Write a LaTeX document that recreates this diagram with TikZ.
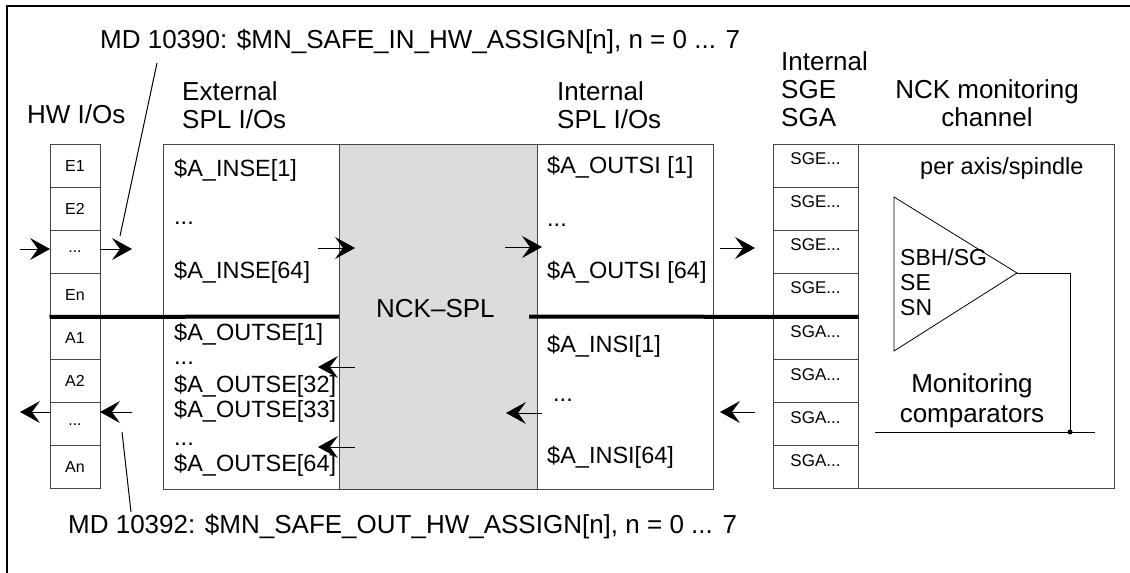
\documentclass[tikz,border=0pt]{standalone}
\usepackage{fontspec}
\setmainfont{Liberation Sans}
\usetikzlibrary{arrows.meta}
\definecolor{splgray}{RGB}{220,220,220}
\definecolor{edgegray}{RGB}{70,70,70}

\tikzset{
  heading/.style={font=\fontsize{26}{28}\selectfont, inner sep=0pt, align=left, anchor=base west},
  entry/.style={font=\fontsize{23.5}{26}\selectfont, inner sep=0pt, anchor=base west},
  hwcell/.style={draw=edgegray, line width=1pt, minimum width=50pt, minimum height=43.125pt,
    inner sep=0pt, font=\fontsize{16}{16}\selectfont},
  sgcell/.style={draw=edgegray, line width=1pt, minimum width=85pt, minimum height=43.125pt,
    inner sep=0pt, text height=10pt, text depth=12pt, font=\fontsize{17}{17}\selectfont},
  box/.style={draw=edgegray, line width=1pt},
  sig/.style={line width=1pt, -{Stealth[length=20pt, width=22pt, inset=8pt]}},
  bus/.style={line width=4pt},
  leader/.style={line width=1pt},
}

\begin{document}
\begin{tikzpicture}[x=1pt, y=-1pt]
  \useasboundingbox (0,0) rectangle (1130,573);
  % frame
  \draw[line width=1.5pt] (7,573) -- (7,6) -- (1130,6);

  % SPL boxes
  \filldraw[box, fill=splgray] (339,144) rectangle (537,489);
  \draw[box] (163,144) rectangle (339,489);
  \draw[box] (537,144) rectangle (713,489);
  \draw[box] (773,144) rectangle (1114,488);

  % HW I/O cells
  \node[hwcell] (hwe1) at (75,165.6) {E1};
  \node[hwcell] (hwe2) at (75,208.7) {E2};
  \node[hwcell] (hwedots) at (75,251.8) {...};
  \node[hwcell] (hwen) at (75,294.9) {En};
  \node[hwcell] (hwa1) at (75,338.1) {A1};
  \node[hwcell] (hwa2) at (75,381.2) {A2};
  \node[hwcell] (hwadots) at (75,424.3) {...};
  \node[hwcell] (hwan) at (75,467.4) {An};

  % SGE/SGA cells
  \node[sgcell] (sge1) at (815.5,165.6) {SGE...};
  \node[sgcell] (sge2) at (815.5,208.7) {SGE...};
  \node[sgcell] (sge3) at (815.5,251.8) {SGE...};
  \node[sgcell] (sge4) at (815.5,294.9) {SGE...};
  \node[sgcell] (sga1) at (815.5,338.1) {SGA...};
  \node[sgcell] (sga2) at (815.5,381.2) {SGA...};
  \node[sgcell] (sga3) at (815.5,424.3) {SGA...};
  \node[sgcell] (sga4) at (815.5,467.4) {SGA...};

  % input / output bus split
  \coordinate (busl) at (339,316.5);
  \coordinate (busr) at (529,316.5);
  \draw[bus] (hwen.south west) -- (busl);
  \draw[bus] (busr) -- (sge4.south east);

  % headings
  \node[heading] (hwhead) at (27,123) {HW I/Os};
  \node[heading] (exthead) at (182,128) {External\\SPL I/Os};
  \node[heading] (inthead) at (557,128) {Internal\\SPL I/Os};
  \node[heading] (sghead) at (781,126) {Internal\\SGE\\SGA};
  \node[heading, align=center, anchor=base] (monhead) at (987,126) {NCK monitoring\\channel};
  \node[entry] (peraxis) at (920,174) {per axis/spindle};
  \node[heading] (spl) at (376,317) {NCK--SPL};

  % external SPL I/Os
  \node[entry] (inse1) at (174,176) {\$A\_INSE[1]};
  \node[entry] (insedots) at (174,224) {...};
  \node[entry] (inse64) at (174,278) {\$A\_INSE[64]};
  \node[entry] (outse1) at (174,340) {\$A\_OUTSE[1]};
  \node[entry] (outsedotsa) at (174,364) {...};
  \node[entry] (outse32) at (174,392) {\$A\_OUTSE[32]};
  \node[entry] (outse33) at (174,417) {\$A\_OUTSE[33]};
  \node[entry] (outsedotsb) at (174,445) {...};
  \node[entry] (outse64) at (174,471) {\$A\_OUTSE[64]};

  % internal SPL I/Os
  \node[entry] (outsi1) at (547,173) {\$A\_OUTSI [1]};
  \node[entry] (outsidots) at (547,226) {...};
  \node[entry] (outsi64) at (547,278) {\$A\_OUTSI [64]};
  \node[entry] (insi1) at (547,352) {\$A\_INSI[1]};
  \node[entry] (insidots) at (553,401) {...};
  \node[entry] (insi64) at (547,463) {\$A\_INSI[64]};

  % monitoring comparator
  \coordinate (cmptop) at (894,197);
  \coordinate (cmpout) at (1017,273);
  \coordinate (cmpbot) at (894,351);
  \coordinate (cmpbend) at (1070,273);
  \coordinate (cmpjoin) at (1070,432);
  \coordinate (cmpl) at (875,432);
  \coordinate (cmpr) at (1095,432);
  \draw[line width=0.8pt] (cmptop) -- (cmpout) -- (cmpbot) -- cycle;
  \draw[line width=1pt] (cmpout) -- (cmpbend) -- (cmpjoin);
  \draw[line width=1pt] (cmpl) -- (cmpr);
  \fill (cmpjoin) circle (2.5);
  \node[entry, font=\fontsize{23}{25}\selectfont, align=left] (cmptext) at (900,315) {SBH/SG\\SE\\SN};
  \node[heading, align=center, anchor=base, font=\fontsize{26}{30}\selectfont] (cmphead) at (972,422) {Monitoring\\comparators};

  % machine data
  \node[heading] (mdin) at (100,48) {MD 10390: \$MN\_SAFE\_IN\_HW\_ASSIGN[n], n = 0 ... 7};
  \node[heading] (mdout) at (68,533) {MD 10392: \$MN\_SAFE\_OUT\_HW\_ASSIGN[n], n = 0 ... 7};
  \coordinate (mdina) at (157,63);
  \coordinate (mdinb) at (120,236);
  \coordinate (mdouta) at (122,432);
  \coordinate (mdoutb) at (131,512);
  \draw[leader] (mdina) -- (mdinb);
  \draw[leader] (mdouta) -- (mdoutb);

  % signal arrows
  \coordinate (hwin) at (20,249);
  \coordinate (hwinto) at (50,249);
  \coordinate (extin) at (100,249);
  \coordinate (extinto) at (132,249);
  \coordinate (splin) at (318,248);
  \coordinate (splinto) at (355,248);
  \coordinate (intin) at (505,247);
  \coordinate (intinto) at (542,247);
  \coordinate (sgein) at (720,248);
  \coordinate (sgeinto) at (755,248);
  \draw[sig] (hwin) -- (hwinto);
  \draw[sig] (extin) -- (extinto);
  \draw[sig] (splin) -- (splinto);
  \draw[sig] (intin) -- (intinto);
  \draw[sig] (sgein) -- (sgeinto);
  \coordinate (hwout) at (50,412);
  \coordinate (hwoutto) at (20,412);
  \coordinate (extout) at (132,412);
  \coordinate (extoutto) at (100,412);
  \coordinate (splouta) at (355,367);
  \coordinate (sploutato) at (318,367);
  \coordinate (sploutb) at (355,447);
  \coordinate (sploutbto) at (318,447);
  \coordinate (intout) at (542,413);
  \coordinate (intoutto) at (506,413);
  \coordinate (sgaout) at (755,412);
  \coordinate (sgaoutto) at (720,412);
  \draw[sig] (hwout) -- (hwoutto);
  \draw[sig] (extout) -- (extoutto);
  \draw[sig] (splouta) -- (sploutato);
  \draw[sig] (sploutb) -- (sploutbto);
  \draw[sig] (intout) -- (intoutto);
  \draw[sig] (sgaout) -- (sgaoutto);
\end{tikzpicture}
\end{document}
